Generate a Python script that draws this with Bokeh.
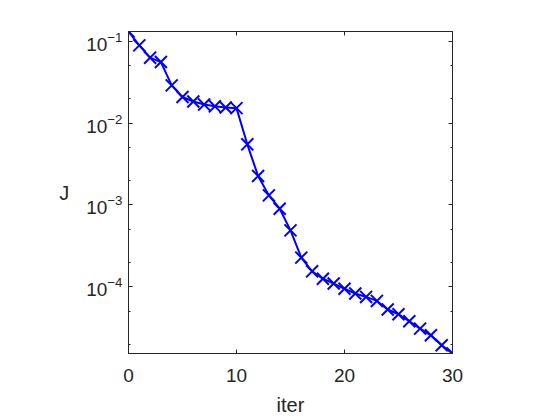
from bokeh.plotting import figure
from bokeh.models import LinearAxis, LogAxis, FixedTicker, Range1d, CustomJSTickFormatter
from bokeh.embed import file_html
from bokeh.resources import INLINE

iters = list(range(31))
J = [0.131, 0.0887, 0.0628, 0.0555, 0.0288, 0.0208, 0.0183, 0.0168, 0.0160, 0.0155,
     0.0152, 0.0055, 0.00226, 0.00131, 0.00090, 0.00049, 0.000228, 0.000155, 0.000126,
     0.000110, 0.000095, 0.000083, 0.0000755, 0.0000675, 0.000053, 0.0000464,
     0.0000381, 0.000031, 0.0000257, 0.0000194, 0.0000154]
x_ticks = [0, 10, 20, 30]
y_ticks = [1e-4, 1e-3, 1e-2, 1e-1]
y_minor = [2e-5, 5e-5, 2e-4, 5e-4, 2e-3, 5e-3, 2e-2, 5e-2]

FONT = "Liberation Sans"
TXT = "#262626"

p = figure(frame_width=324, frame_height=322, y_axis_type="log",
           x_range=Range1d(min(iters), max(iters)), y_range=Range1d(min(J), max(J)),
           output_backend="svg", toolbar_location=None,
           min_border_left=128, min_border_top=31, min_border_right=60, min_border_bottom=60)
p.background_fill_color = "white"
p.border_fill_color = "white"
p.outline_line_color = TXT
p.outline_line_width = 1
p.grid.visible = False

p.line(iters, J, line_color="blue", line_width=2)
p.scatter(iters, J, marker="x", size=17, line_color="blue", line_width=2)

def style(ax):
    ax.axis_line_color = TXT
    ax.major_tick_in = 4
    ax.major_tick_out = 0
    ax.minor_tick_in = 2
    ax.minor_tick_out = 0
    ax.major_tick_line_color = TXT
    ax.minor_tick_line_color = TXT
    ax.major_label_text_font = FONT
    ax.major_label_text_color = TXT
    ax.major_label_text_font_size = "19px"
    ax.axis_label_text_font = FONT
    ax.axis_label_text_color = TXT
    ax.axis_label_text_font_size = "20px"
    ax.axis_label_text_font_style = "normal"

xax = p.xaxis[0]
xax.ticker = FixedTicker(ticks=x_ticks)
xax.axis_label = "iter"
style(xax)
xax.major_label_standoff = 15
xax.axis_label_standoff = 9

yax = p.yaxis[0]
yax.ticker = FixedTicker(ticks=y_ticks, minor_ticks=y_minor)
yax.axis_label = "J"
yax.axis_label_orientation = "horizontal"
style(yax)
yax.major_label_standoff = 6
yax.axis_label_standoff = 14

blank = CustomJSTickFormatter(code="return ''")
top = LinearAxis(ticker=FixedTicker(ticks=x_ticks), formatter=blank)
style(top)
p.add_layout(top, "above")
right = LogAxis(ticker=FixedTicker(ticks=y_ticks, minor_ticks=y_minor), formatter=blank)
style(right)
p.add_layout(right, "right")

open("out.html", "w").write(file_html(p, INLINE))
